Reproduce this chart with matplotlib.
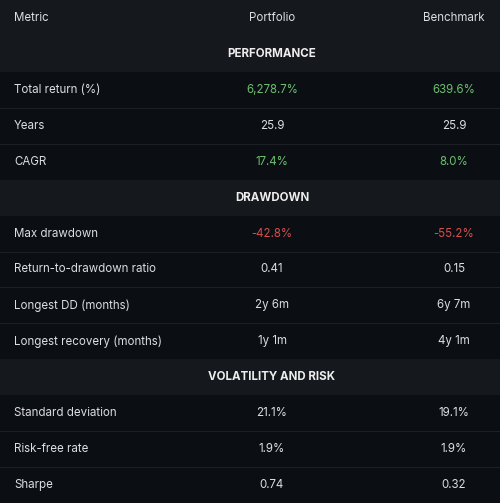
import matplotlib
matplotlib.use("Agg")
import matplotlib.pyplot as plt
from matplotlib.patches import Rectangle

columns = ["Metric", "Portfolio", "Benchmark"]
sections = ["PERFORMANCE", "DRAWDOWN", "VOLATILITY AND RISK"]
section_metrics = [
    ["Total return (%)", "Years", "CAGR"],
    ["Max drawdown", "Return-to-drawdown ratio", "Longest DD (months)", "Longest recovery (months)"],
    ["Standard deviation", "Risk-free rate", "Sharpe"],
]
portfolio_values = [
    ["6,278.7%", "25.9", "17.4%"],
    ["-42.8%", "0.41", "2y 6m", "1y 1m"],
    ["21.1%", "1.9%", "0.74"],
]
benchmark_values = [
    ["639.6%", "25.9", "8.0%"],
    ["-55.2%", "0.15", "6y 7m", "4y 1m"],
    ["19.1%", "1.9%", "0.32"],
]
# value tone: 'pos' green, 'neg' red, None neutral
value_tones = [
    ["pos", None, "pos"],
    ["neg", None, None, None],
    [None, None, None],
]

BG_DATA = "#0b0e13"
BG_HEAD = "#15181c"
LINE = "#1c1f24"
TXT = "#dcdde0"
GREEN = "#6cbf6f"
RED = "#d2504c"
FONT = ["Inter", "DejaVu Sans"]

W, H = 500, 503
fig = plt.figure(figsize=(W / 100, H / 100), dpi=100, facecolor=BG_DATA)
ax = fig.add_axes([0, 0, 1, 1])
ax.set_xlim(0, W)
n_rows = 1 + sum(1 + len(m) for m in section_metrics)
rh = H / n_rows
ax.set_ylim(H, 0)
ax.axis("off")

x_metric = 14
x_port = 272
x_bench = 454
fs = 8.3

def row_bg(i, color):
    ax.add_patch(Rectangle((0, i * rh), W, rh, facecolor=color, edgecolor="none", zorder=0))

def sep(i):
    ax.plot([0, W], [i * rh, i * rh], color=LINE, lw=0.8, zorder=1)

r = 0
row_bg(r, BG_HEAD)
yc = (r + 0.5) * rh
ax.text(x_metric, yc, columns[0], color=TXT, fontsize=fs, family=FONT, ha="left", va="center")
ax.text(x_port, yc, columns[1], color=TXT, fontsize=fs, family=FONT, ha="center", va="center")
ax.text(x_bench, yc, columns[2], color=TXT, fontsize=fs, family=FONT, ha="center", va="center")
r += 1
tone_col = {"pos": GREEN, "neg": RED, None: TXT}
for s, title in enumerate(sections):
    row_bg(r, BG_HEAD)
    yc = (r + 0.5) * rh
    ax.text(x_port, yc, title, color="#eeeeee", fontsize=fs, family=FONT, fontweight="bold",
            ha="center", va="center")
    r += 1
    for k, m in enumerate(section_metrics[s]):
        row_bg(r, BG_DATA)
        if k > 0:
            sep(r)
        yc = (r + 0.5) * rh
        c = tone_col[value_tones[s][k]]
        ax.text(x_metric, yc, m, color=TXT, fontsize=fs, family=FONT, ha="left", va="center")
        ax.text(x_port, yc, portfolio_values[s][k], color=c, fontsize=fs, family=FONT, ha="center", va="center")
        ax.text(x_bench, yc, benchmark_values[s][k], color=c, fontsize=fs, family=FONT, ha="center", va="center")
        r += 1

fig.savefig("out.png", dpi=100, facecolor=BG_DATA)
